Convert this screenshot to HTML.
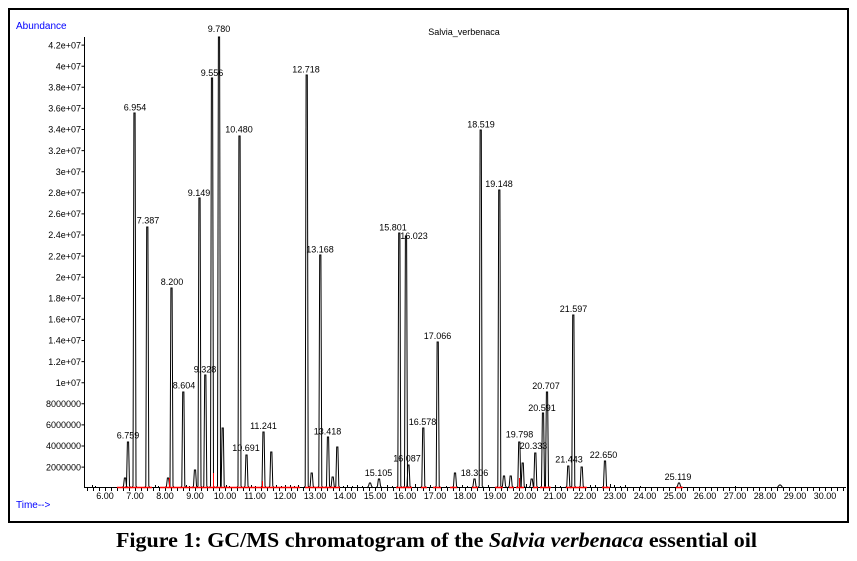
<!DOCTYPE html>
<html><head><meta charset="utf-8"><style>
html,body{margin:0;padding:0;background:#fff;}
svg{display:block;}
text{font-family:"Liberation Sans",Arial,sans-serif;font-size:9px;fill:#000;}
.cap{font-family:"Liberation Serif","Times New Roman",serif;font-size:21px;font-weight:bold;}
.blue{fill:#0000ff;font-size:10px;}
</style></head><body>
<svg width="857" height="561" viewBox="0 0 857 561" xmlns="http://www.w3.org/2000/svg">
<defs>
<pattern id="tk" x="105" y="488" width="6" height="4" patternUnits="userSpaceOnUse"><rect x="0" y="0" width="1" height="3" fill="#000"/></pattern>
</defs>
<rect x="0" y="0" width="857" height="561" fill="#fff"/>
<rect x="9" y="9" width="839" height="513" fill="none" stroke="#000" stroke-width="2"/>

<!-- axes -->
<line x1="84.5" y1="37" x2="84.5" y2="488" stroke="#000" stroke-width="1"/>
<line x1="84" y1="487.5" x2="846" y2="487.5" stroke="#000" stroke-width="1"/>
<rect x="84" y="488" width="762" height="3" fill="url(#tk)"/>

<!-- y ticks -->
<path d="M81.5,45.1h3M81.5,66.2h3M81.5,87.3h3M81.5,108.4h3M81.5,129.5h3M81.5,150.6h3M81.5,171.7h3M81.5,192.8h3M81.5,213.9h3M81.5,235h3M81.5,256.1h3M81.5,277.2h3M81.5,298.3h3M81.5,319.4h3M81.5,340.5h3M81.5,361.6h3M81.5,382.7h3M81.5,403.8h3M81.5,424.9h3M81.5,446h3M81.5,467.1h3" stroke="#000" stroke-width="1"/>

<g text-anchor="end">
<text x="81" y="48.3">4.2e+07</text>
<text x="81" y="69.4">4e+07</text>
<text x="81" y="90.5">3.8e+07</text>
<text x="81" y="111.6">3.6e+07</text>
<text x="81" y="132.7">3.4e+07</text>
<text x="81" y="153.8">3.2e+07</text>
<text x="81" y="174.9">3e+07</text>
<text x="81" y="196">2.8e+07</text>
<text x="81" y="217.1">2.6e+07</text>
<text x="81" y="238.2">2.4e+07</text>
<text x="81" y="259.3">2.2e+07</text>
<text x="81" y="280.4">2e+07</text>
<text x="81" y="301.5">1.8e+07</text>
<text x="81" y="322.6">1.6e+07</text>
<text x="81" y="343.7">1.4e+07</text>
<text x="81" y="364.8">1.2e+07</text>
<text x="81" y="385.9">1e+07</text>
<text x="81" y="407">8000000</text>
<text x="81" y="428.1">6000000</text>
<text x="81" y="449.2">4000000</text>
<text x="81" y="470.3">2000000</text>
</g>

<g text-anchor="middle">
<text x="105" y="499">6.00</text>
<text x="135" y="499">7.00</text>
<text x="165" y="499">8.00</text>
<text x="195" y="499">9.00</text>
<text x="225" y="499">10.00</text>
<text x="255" y="499">11.00</text>
<text x="285" y="499">12.00</text>
<text x="315" y="499">13.00</text>
<text x="345" y="499">14.00</text>
<text x="375" y="499">15.00</text>
<text x="405" y="499">16.00</text>
<text x="435" y="499">17.00</text>
<text x="465" y="499">18.00</text>
<text x="495" y="499">19.00</text>
<text x="525" y="499">20.00</text>
<text x="555" y="499">21.00</text>
<text x="585" y="499">22.00</text>
<text x="615" y="499">23.00</text>
<text x="645" y="499">24.00</text>
<text x="675" y="499">25.00</text>
<text x="705" y="499">26.00</text>
<text x="735" y="499">27.00</text>
<text x="765" y="499">28.00</text>
<text x="795" y="499">29.00</text>
<text x="825" y="499">30.00</text>
</g>

<text class="blue" x="16" y="29">Abundance</text>
<text class="blue" x="16" y="508">Time--&gt;</text>
<text x="464" y="35" text-anchor="middle">Salvia_verbenaca</text>

<!-- chromatogram peaks -->
<path fill="none" stroke="#000" stroke-width="1" d="
M122,488 l1.5,-2 l.9,-8 h1.2 l.9,8 l1.5,2
M125,488 l1.5,-2 l.9,-44 h1.2 l.9,44 l1.5,2
M131.5,488 l1.5,-2 l.9,-373 h1.2 l.9,373 l1.5,2
M144.3,488 l1.5,-2 l.9,-259 h1.2 l.9,259 l1.5,2
M165,488 l1.5,-2 l.9,-8 h1.2 l.9,8 l1.5,2
M168.5,488 l1.5,-2 l.9,-198 h1.2 l.9,198 l1.5,2
M180.3,488 l1.5,-2 l.9,-94 h1.2 l.9,94 l1.5,2
M192,488 l1.5,-2 l.9,-16 h1.2 l.9,16 l1.5,2
M196.5,488 l1.5,-2 l.9,-288 h1.2 l.9,288 l1.5,2
M202.3,488 l1.5,-2 l.9,-111 h1.2 l.9,111 l1.5,2
M209,488 l1.5,-2 l.9,-408 h1.2 l.9,408 l1.5,2
M216,488 l1.5,-2 l.9,-449 h1.2 l.9,449 l1.5,2
M219.7,488 l1.5,-2 l.9,-58 h1.2 l.9,58 l1.5,2
M236.5,488 l1.5,-2 l.9,-350 h1.2 l.9,350 l1.5,2
M243.5,488 l1.5,-2 l.9,-31 h1.2 l.9,31 l1.5,2
M260.5,488 l1.5,-2 l.9,-54 h1.2 l.9,54 l1.5,2
M268.3,488 l1.5,-2 l.9,-34 h1.2 l.9,34 l1.5,2
M303.7,488 l1.5,-2 l.9,-411 h1.2 l.9,411 l1.5,2
M308.7,488 l1.5,-2 l.9,-13 h1.2 l.9,13 l1.5,2
M317.3,488 l1.5,-2 l.9,-231 h1.2 l.9,231 l1.5,2
M325,488 l1.5,-2 l.9,-49 h1.2 l.9,49 l1.5,2
M329.7,488 l1.5,-2 l.9,-9 h1.2 l.9,9 l1.5,2
M334.3,488 l1.5,-2 l.9,-39 h1.2 l.9,39 l1.5,2
M367,488 l1.5,-2 l.9,-3 h1.2 l.9,3 l1.5,2
M376,488 l1.5,-2 l.9,-7 h1.2 l.9,7 l1.5,2
M396.3,488 l1.5,-2 l.9,-253 h1.2 l.9,253 l1.5,2
M403,488 l1.5,-2 l.9,-250 h1.2 l.9,250 l1.5,2
M405.5,488 l1.5,-2 l.9,-21 h1.2 l.9,21 l1.5,2
M420.3,488 l1.5,-2 l.9,-58 h1.2 l.9,58 l1.5,2
M434.7,488 l1.5,-2 l.9,-144 h1.2 l.9,144 l1.5,2
M452,488 l1.5,-2 l.9,-13 h1.2 l.9,13 l1.5,2
M471.5,488 l1.5,-2 l.9,-7 h1.2 l.9,7 l1.5,2
M477.7,488 l1.5,-2 l.9,-356 h1.2 l.9,356 l1.5,2
M496.3,488 l1.5,-2 l.9,-296 h1.2 l.9,296 l1.5,2
M501,488 l1.5,-2 l.9,-10 h1.2 l.9,10 l1.5,2
M507.7,488 l1.5,-2 l.9,-10 h1.2 l.9,10 l1.5,2
M516.3,488 l1.5,-2 l.9,-44 h1.2 l.9,44 l1.5,2
M519.7,488 l1.5,-2 l.9,-23 h1.2 l.9,23 l1.5,2
M528.7,488 l1.5,-2 l.9,-7 h1.2 l.9,7 l1.5,2
M532.3,488 l1.5,-2 l.9,-33 h1.2 l.9,33 l1.5,2
M540,488 l1.5,-2 l.9,-73 h1.2 l.9,73 l1.5,2
M544,488 l1.5,-2 l.9,-94 h1.2 l.9,94 l1.5,2
M565.3,488 l1.5,-2 l.9,-20 h1.2 l.9,20 l1.5,2
M570.3,488 l1.5,-2 l.9,-171 h1.2 l.9,171 l1.5,2
M578.7,488 l1.5,-2 l.9,-19 h1.2 l.9,19 l1.5,2
M602,488 l1.5,-2 l.9,-25 h1.2 l.9,25 l1.5,2
M676,488 l1.5,-2 l.9,-3 h1.2 l.9,3 l1.5,2
M777,488 l1.5,-2 l.9,-1 h1.2 l.9,1 l1.5,2"/>

<!-- baseline noise -->
<path fill="none" stroke="#000" stroke-width="1" d="M92.5,488v-3M95.5,488v-2M155.5,488v-3M158.5,488v-2M186.5,488v-3M189.5,488v-2M226.5,488v-3M229.5,488v-2M251.5,488v-3M255.5,488v-2M276.5,488v-3M281.5,488v-2M285.5,488v-3M290.5,488v-3M294.5,488v-2M298.5,488v-3M343.5,488v-2M347.5,488v-3M352.5,488v-2M357.5,488v-3M362.5,488v-2M387.5,488v-3M392.5,488v-2M415.5,488v-4M430.5,488v-3M446.5,488v-2M462.5,488v-3M467.5,488v-2M488.5,488v-3M526.5,488v-4M555.5,488v-3M560.5,488v-2M590.5,488v-3M595.5,488v-3M610.5,488v-4M614.5,488v-3M620.5,488v-2M625.5,488v-3M640.5,488v-2M735.5,488v-2"/>

<!-- red integration marks (drawn on top) -->
<path d="M117,487.5H152M160,487.5H300M305,487.5H340M396,487.5H412M421,487.5H427M433,487.5H441M450,487.5H457M472,487.5H478M495,487.5H503M509,487.5H514M516,487.5H524M533,487.5H538M540,487.5H551M566,487.5H587M602,487.5H610M676,487.5H683" stroke="#ff0000" stroke-width="1.5" fill="none"/>
<path d="M213.5,488V473M169.5,488V478M262.5,488V481M519.5,488V478" stroke="#ff0000" stroke-width="1" fill="none"/>

<!-- peak labels -->
<g text-anchor="middle">
<text x="128" y="438.5">6.759</text>
<text x="135" y="110.5">6.954</text>
<text x="148" y="223.5">7.387</text>
<text x="172" y="285">8.200</text>
<text x="184" y="388.5">8.604</text>
<text x="199" y="196">9.149</text>
<text x="205" y="372.5">9.328</text>
<text x="212" y="76">9.556</text>
<text x="219" y="32">9.780</text>
<text x="239" y="132.5">10.480</text>
<text x="246" y="451">10.691</text>
<text x="263.5" y="429">11.241</text>
<text x="306" y="72.5">12.718</text>
<text x="320" y="252.5">13.168</text>
<text x="327.5" y="434.5">13.418</text>
<text x="378.5" y="476">15.105</text>
<text x="393" y="230.5">15.801</text>
<text x="414" y="239">16.023</text>
<text x="407" y="461.5">16.087</text>
<text x="422.5" y="425">16.578</text>
<text x="437.5" y="339">17.066</text>
<text x="474.5" y="476">18.306</text>
<text x="481" y="127.5">18.519</text>
<text x="499" y="187">19.148</text>
<text x="519.5" y="437.5">19.798</text>
<text x="533.5" y="449">20.333</text>
<text x="542" y="411">20.591</text>
<text x="546" y="389">20.707</text>
<text x="569" y="462.5">21.443</text>
<text x="573.5" y="312">21.597</text>
<text x="603.5" y="458">22.650</text>
<text x="678" y="480">25.119</text>
</g>

<text class="cap" x="116" y="547" textLength="641" lengthAdjust="spacingAndGlyphs">Figure 1: GC/MS chromatogram of the <tspan font-style="italic">Salvia verbenaca</tspan> essential oil</text>
</svg>
</body></html>
